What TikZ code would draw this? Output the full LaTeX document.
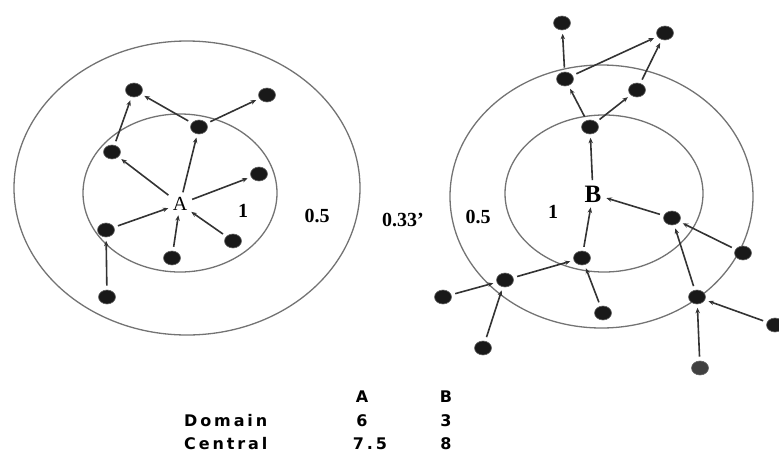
\documentclass[tikz,border=0pt]{standalone}
\usepackage{fontspec}
\setmainfont{Liberation Serif}
\newfontfamily\tabfont[LetterSpace=18]{DejaVu Sans}
\usetikzlibrary{shapes.geometric,arrows.meta}
\tikzset{
  dot/.style={ellipse,fill=black!90,draw=black!60,line width=0.6pt,minimum width=17pt,minimum height=14pt,inner sep=0pt},
  ring/.style={draw=black!55,line width=1.3pt},
  conn/.style={-{Stealth[length=5.5pt,width=4.5pt]},line width=1.6pt,draw=black!80,shorten >=3.5pt,shorten <=4pt},
  lbl/.style={font=\bfseries\fontsize{20}{20}\selectfont,inner sep=1pt},
  ctr/.style={font=\bfseries\fontsize{25}{25}\selectfont,inner sep=1.5pt},
  tab/.style={font=\tabfont\bfseries\fontsize{16}{16}\selectfont,inner sep=0pt},
}
\begin{document}
\begin{tikzpicture}[x=1pt,y=-1pt]
\useasboundingbox (0,0) rectangle (779,453);
% left rings
\draw[ring] (187,188) ellipse [x radius=173pt, y radius=147pt];
\draw[ring] (180,193) ellipse [x radius=97pt, y radius=79pt];
% right rings
\draw[ring] (601.5,196.5) ellipse [x radius=151.5pt, y radius=131.5pt];
\draw[ring] (604,193.5) ellipse [x radius=99pt, y radius=78.5pt];
% left nodes
\node[lbl,font=\fontsize{20}{20}\selectfont] (A) at (180,204) {A};
\node[dot] (n1) at (134,90) {};
\node[dot] (n2) at (267,95) {};
\node[dot] (n3) at (199,127) {};
\node[dot] (n4) at (112,152) {};
\node[dot] (n5) at (259,174) {};
\node[dot] (n6) at (106,230) {};
\node[dot] (n7) at (172,258) {};
\node[dot] (n8) at (233,241) {};
\node[dot] (n9) at (107,297) {};
% labels
\node[lbl] (l1) at (243,211) {1};
\node[lbl] (l05a) at (317,216) {0.5};
\node[lbl] (l033) at (403,220) {0.33'};
\node[lbl] (l05b) at (478,217) {0.5};
\node[lbl] (l1b) at (553,212) {1};
% left edges
\draw[conn] (A) -- (n3);
\draw[conn] (A) -- (n5);
\draw[conn] (A) -- (n4);
\draw[conn] (n6) -- (A);
\draw[conn] (n7) -- (A);
\draw[conn] (n8) -- (A);
\draw[conn] (n3) -- (n1);
\draw[conn] (n3) -- (n2);
\draw[conn] (n4) -- (n1);
\draw[conn] (n9) -- (n6);
% right nodes
\node[ctr] (B) at (593,194) {B};
\node[dot] (r1) at (562,23) {};
\node[dot] (r2) at (665,33) {};
\node[dot] (r3) at (565,79) {};
\node[dot] (r4) at (637,90) {};
\node[dot] (r5) at (590,127) {};
\node[dot] (r6) at (672,218) {};
\node[dot] (r7) at (743,253) {};
\node[dot] (r8) at (582,258) {};
\node[dot] (r9) at (505,280) {};
\node[dot] (r10) at (443,297) {};
\node[dot] (r11) at (603,313) {};
\node[dot] (r12) at (697,297) {};
\node[dot] (r13) at (775,325) {};
\node[dot] (r14) at (483,348) {};
\node[dot,fill=black!75] (r15) at (700,368) {};
% right edges
\draw[conn] (r3) -- (r1);
\draw[conn] (r3) -- (r2);
\draw[conn] (r4) -- (r2);
\draw[conn] (r5) -- (r3);
\draw[conn] (r5) -- (r4);
\draw[conn] (B) -- (r5);
\draw[conn] (r6) -- (B);
\draw[conn] (r8) -- (B);
\draw[conn] (r9) -- (r8);
\draw[conn] (r11) -- (r8);
\draw[conn] (r10) -- (r9);
\draw[conn] (r14) -- (r9);
\draw[conn] (r7) -- (r6);
\draw[conn] (r12) -- (r6);
\draw[conn] (r13) -- (r12);
\draw[conn] (r15) -- (r12);
% table
\node[tab] (hA) at (362,397) {A};
\node[tab] (hB) at (446,397) {B};
\node[tab,anchor=west] (dom) at (184,421) {Domain};
\node[tab] (dA) at (362,421) {6};
\node[tab] (dB) at (446,421) {3};
\node[tab,anchor=west] (cen) at (184,444) {Central};
\node[tab] (cA) at (370,444) {7.5};
\node[tab] (cB) at (446,444) {8};
\end{tikzpicture}
\end{document}
